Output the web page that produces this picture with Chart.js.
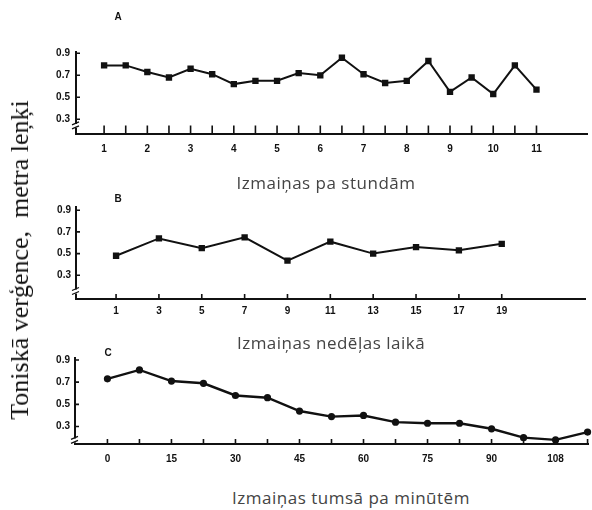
<!DOCTYPE html>
<html>
<head>
<meta charset="utf-8">
<script src="https://cdn.jsdelivr.net/npm/chart.js@4/dist/chart.umd.min.js"></script>
<style>
  html, body { margin: 0; padding: 0; background: #ffffff; }
  #page { position: relative; width: 592px; height: 510px; overflow: hidden; background: #ffffff; }
  canvas { position: absolute; left: 0; }
  .lbl { position: absolute; transform: translate(-50%, -50%); white-space: nowrap; }
  .panel { font: bold 10px "Liberation Sans", Arial, sans-serif; color: #111; }
  .xtitle { font: 17px "Open Sans", "Noto Sans", sans-serif; letter-spacing: 0.5px; color: #444; }
  .ytitle { font: 26px "Liberation Serif", "DejaVu Serif", serif; color: #111;
            transform: translate(-50%, -50%) rotate(-90deg); }
</style>
</head>
<body>
<div id="page">
  <canvas id="panelA" width="592" height="170" style="top:0px"></canvas>
  <canvas id="panelB" width="592" height="140" style="top:190px"></canvas>
  <canvas id="panelC" width="592" height="130" style="top:345px"></canvas>

  <div class="lbl panel" style="left:118px; top:16px">A</div>
  <div class="lbl panel" style="left:118px; top:198px">B</div>
  <div class="lbl panel" style="left:108px; top:352px">C</div>

  <div class="lbl xtitle" style="left:326px; top:182px">Izmaiņas pa stundām</div>
  <div class="lbl xtitle" style="left:331px; top:342px">Izmaiņas nedēļas laikā</div>
  <div class="lbl xtitle" style="left:351px; top:497px">Izmaiņas tumsā pa minūtēm</div>

  <div class="lbl ytitle" style="left:20px; top:260px">Toniskā verģence,&nbsp; metra leņķi</div>
</div>

<script>
// A: tonic vergence measured every half hour
const hoursA = [1, 1.5, 2, 2.5, 3, 3.5, 4, 4.5, 5, 5.5, 6, 6.5, 7, 7.5, 8, 8.5, 9, 9.5, 10, 10.5, 11];
const vergenceA = [0.79, 0.79, 0.73, 0.68, 0.76, 0.71, 0.62, 0.65, 0.65, 0.72, 0.70, 0.86, 0.71, 0.63, 0.65, 0.83, 0.55, 0.68, 0.53, 0.79, 0.57];
const xTicksA = [1, 2, 3, 4, 5, 6, 7, 8, 9, 10, 11];
const xLabelsA = ['1', '2', '3', '4', '5', '6', '7', '8', '9', '10', '11'];

// B: tonic vergence over the week
const daysB = [1, 3, 5, 7, 9, 11, 13, 15, 17, 19];
const vergenceB = [0.48, 0.64, 0.55, 0.65, 0.435, 0.61, 0.50, 0.56, 0.53, 0.59];
const xLabelsB = ['1', '3', '5', '7', '9', '11', '13', '15', '17', '19'];

// C: tonic vergence in darkness, minutes
const minutesC = [0, 7.5, 15, 22.5, 30, 37.5, 45, 52.5, 60, 67.5, 75, 82.5, 90, 97.5, 105, 112.5];
const vergenceC = [0.73, 0.81, 0.71, 0.69, 0.58, 0.56, 0.44, 0.39, 0.40, 0.34, 0.33, 0.33, 0.28, 0.20, 0.18, 0.25];
const xTicksC = [0, 15, 30, 45, 60, 75, 90, 105];
const xLabelsC = ['0', '15', '30', '45', '60', '75', '90', '108'];

// shared vertical axis
const yTicks = [0.3, 0.5, 0.7, 0.9];
const yLabels = ['0.3', '0.5', '0.7', '0.9'];

const INK = '#111111';

// inward tick marks and the broken-axis symbol
const axisMarks = {
  id: 'axisMarks',
  afterDraw(chart, args, opts) {
    const ctx = chart.ctx;
    const xs = chart.scales.x, ys = chart.scales.y;
    const area = chart.chartArea;
    ctx.save();
    ctx.strokeStyle = INK;
    ctx.lineWidth = 1.6;
    ctx.beginPath();
    opts.minor.forEach(v => {
      const px = xs.getPixelForValue(v);
      ctx.moveTo(px, area.bottom);
      ctx.lineTo(px, area.bottom - opts.xLen);
    });
    yTicks.forEach(v => {
      const py = ys.getPixelForValue(v);
      ctx.moveTo(area.left, py);
      ctx.lineTo(area.left + 4, py);
    });
    ctx.stroke();
    // break on the vertical axis
    const by = ys.getPixelForValue(opts.breakAt);
    const bx = area.left;
    ctx.fillStyle = '#ffffff';
    ctx.fillRect(bx - 3, by - 2, 6, 4);
    ctx.lineWidth = 1.3;
    ctx.beginPath();
    ctx.moveTo(bx - 4, by - 1); ctx.lineTo(bx + 3, by - 4);
    ctx.moveTo(bx - 4, by + 3); ctx.lineTo(bx + 3, by);
    ctx.stroke();
    ctx.restore();
  }
};

function makePanel(id, p) {
  const points = p.xs.map((x, i) => ({ x: x, y: p.ys[i] }));
  return new Chart(document.getElementById(id), {
    type: 'line',
    data: {
      datasets: [{
        data: points,
        borderColor: INK,
        backgroundColor: INK,
        borderWidth: p.lineWidth,
        pointStyle: p.pointStyle,
        pointRadius: p.pointRadius,
        pointBorderWidth: 0,
        tension: 0,
        clip: 4
      }]
    },
    options: {
      responsive: false,
      animation: false,
      devicePixelRatio: 1,
      layout: { padding: { top: p.padTop, right: p.padRight, left: 0, bottom: 0 } },
      plugins: {
        legend: { display: false },
        tooltip: { enabled: false },
        axisMarks: { minor: p.minor, xLen: p.xLen, breakAt: p.breakAt }
      },
      scales: {
        x: {
          type: 'linear',
          min: p.xMin, max: p.xMax,
          afterFit: s => { s.height = p.xHeight; },
          afterBuildTicks: s => { s.ticks = p.xTicks.map(v => ({ value: v })); },
          grid: { drawOnChartArea: false, drawTicks: false },
          border: { color: INK, width: 2 },
          ticks: {
            autoSkip: false, maxRotation: 0, padding: p.xPad,
            color: INK, font: { family: 'Liberation Sans', size: 10, weight: 'bold' },
            callback: (v, i) => p.xLabels[i]
          }
        },
        y: {
          type: 'linear',
          min: p.yMin, max: p.yMax,
          afterFit: s => { s.width = p.yWidth; },
          afterBuildTicks: s => { s.ticks = yTicks.map(v => ({ value: v })); },
          grid: { drawOnChartArea: false, drawTicks: false },
          border: { color: INK, width: 2 },
          ticks: {
            padding: p.yPad,
            color: INK, font: { family: 'Liberation Sans', size: 10, weight: 'bold' },
            callback: (v, i) => yLabels[i]
          }
        }
      }
    },
    plugins: [axisMarks]
  });
}

makePanel('panelA', {
  xs: hoursA, ys: vergenceA, xTicks: xTicksA, xLabels: xLabelsA, minor: hoursA,
  xMin: 0.35, xMax: 12.18, yMin: 0.17, yMax: 0.912,
  padTop: 52, padRight: 0, yWidth: 76, xHeight: 36.4, xPad: 10, yPad: 6,
  xLen: 8, breakAt: 0.24, lineWidth: 2, pointStyle: 'rect', pointRadius: 4.5
});

makePanel('panelB', {
  xs: daysB, ys: vergenceB, xTicks: daysB, xLabels: xLabelsB, minor: daysB,
  xMin: -0.87, xMax: 22.9, yMin: 0.08, yMax: 0.93,
  padTop: 17, padRight: 6.7, yWidth: 76, xHeight: 30.9, xPad: 6, yPad: 5,
  xLen: 5, breakAt: 0.15, lineWidth: 2, pointStyle: 'rect', pointRadius: 4.5
});

makePanel('panelC', {
  xs: minutesC, ys: vergenceC, xTicks: xTicksC, xLabels: xLabelsC, minor: minutesC,
  xMin: -7.6, xMax: 112.6, yMin: 0.143, yMax: 0.915,
  padTop: 13.3, padRight: 0, yWidth: 75, xHeight: 31, xPad: 9, yPad: 5,
  xLen: 5, breakAt: 0.175, lineWidth: 2.4, pointStyle: 'circle', pointRadius: 3.6
});
</script>
</body>
</html>
